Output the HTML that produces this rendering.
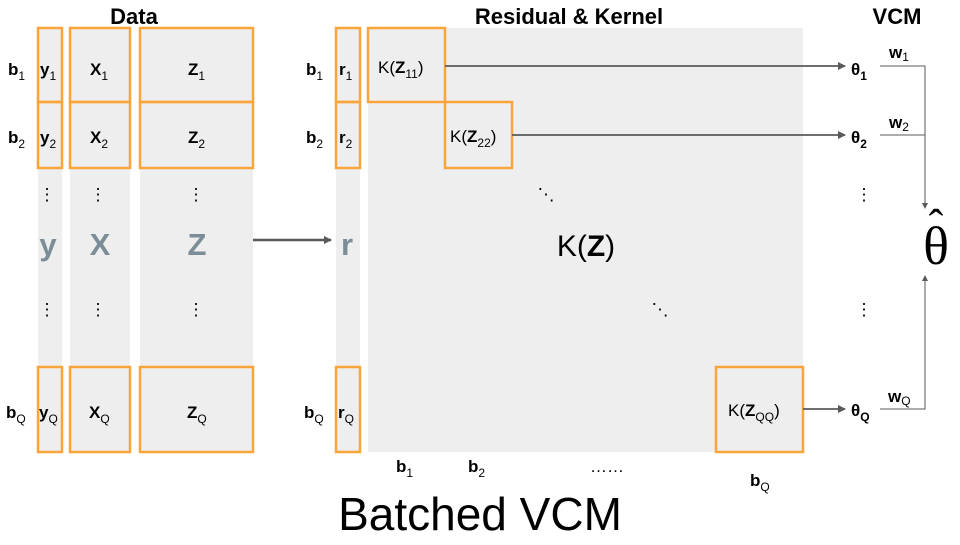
<!DOCTYPE html>
<html><head><style>
body{margin:0;width:960px;height:540px;background:#fff;overflow:hidden;font-family:"Liberation Sans",sans-serif}
</style></head><body>
<svg width="960" height="540" viewBox="0 0 960 540" xmlns="http://www.w3.org/2000/svg" font-family="Liberation Sans, sans-serif">
<defs><marker id="a" markerWidth="8" markerHeight="8" refX="7" refY="4" orient="auto" markerUnits="userSpaceOnUse"><path d="M0,0 L8,4 L0,8z" fill="#595959"/></marker>
<marker id="s" markerWidth="6" markerHeight="6" refX="5" refY="3" orient="auto" markerUnits="userSpaceOnUse"><path d="M0,0 L6,3 L0,6z" fill="#595959"/></marker></defs>
<g fill="#eeeeee">
<rect x="38" y="28" width="24" height="424"/><rect x="70" y="28" width="60" height="424"/><rect x="140" y="28" width="113" height="424"/>
<rect x="336" y="28" width="24" height="424"/><rect x="368" y="28" width="435" height="424"/>
</g>
<g fill="none" stroke="#f9a53c" stroke-width="2.5">
<rect x="38" y="28" width="24" height="74"/><rect x="38" y="102" width="24" height="66"/><rect x="38" y="367" width="24" height="85"/>
<rect x="70" y="28" width="60" height="74"/><rect x="70" y="102" width="60" height="66"/><rect x="70" y="367" width="60" height="85"/>
<rect x="140" y="28" width="113" height="74"/><rect x="140" y="102" width="113" height="66"/><rect x="140" y="367" width="113" height="85"/>
<rect x="336" y="28" width="24" height="74"/><rect x="336" y="102" width="24" height="66"/><rect x="336" y="367" width="24" height="85"/>
<rect x="368" y="28" width="77" height="74"/><rect x="445" y="102" width="67" height="66"/><rect x="716" y="367" width="87" height="85"/>
</g>
<g font-weight="bold" font-size="22" text-anchor="middle" fill="#000">
<text x="134" y="24">Data</text><text x="569" y="24">Residual &amp; Kernel</text><text x="897" y="24">VCM</text>
</g>
<g font-size="17" fill="#000">
<text x="8" y="75" font-weight="bold">b<tspan font-size="12" font-weight="normal" dy="5">1</tspan></text>
<text x="8" y="143" font-weight="bold">b<tspan font-size="12" font-weight="normal" dy="5">2</tspan></text>
<text x="6" y="418" font-weight="bold">b<tspan font-size="12" font-weight="normal" dy="5">Q</tspan></text>
<text x="306" y="75" font-weight="bold">b<tspan font-size="12" font-weight="normal" dy="5">1</tspan></text>
<text x="306" y="143" font-weight="bold">b<tspan font-size="12" font-weight="normal" dy="5">2</tspan></text>
<text x="304" y="418" font-weight="bold">b<tspan font-size="12" font-weight="normal" dy="5">Q</tspan></text>
<text x="40" y="75" font-weight="bold">y<tspan font-size="12" font-weight="normal" dy="5">1</tspan></text>
<text x="40" y="143" font-weight="bold">y<tspan font-size="12" font-weight="normal" dy="5">2</tspan></text>
<text x="39" y="418" font-weight="bold">y<tspan font-size="12" font-weight="normal" dy="5">Q</tspan></text>
<text x="90" y="75" font-weight="bold">X<tspan font-size="12" font-weight="normal" dy="5">1</tspan></text>
<text x="90" y="143" font-weight="bold">X<tspan font-size="12" font-weight="normal" dy="5">2</tspan></text>
<text x="89" y="418" font-weight="bold">X<tspan font-size="12" font-weight="normal" dy="5">Q</tspan></text>
<text x="188" y="75" font-weight="bold">Z<tspan font-size="12" font-weight="normal" dy="5">1</tspan></text>
<text x="188" y="143" font-weight="bold">Z<tspan font-size="12" font-weight="normal" dy="5">2</tspan></text>
<text x="187" y="418" font-weight="bold">Z<tspan font-size="12" font-weight="normal" dy="5">Q</tspan></text>
<text x="339" y="75" font-weight="bold">r<tspan font-size="12" font-weight="normal" dy="5">1</tspan></text>
<text x="339" y="143" font-weight="bold">r<tspan font-size="12" font-weight="normal" dy="5">2</tspan></text>
<text x="338" y="418" font-weight="bold">r<tspan font-size="12" font-weight="normal" dy="5">Q</tspan></text>
<text x="378" y="73">K(<tspan font-weight="bold">Z</tspan><tspan font-size="12" dy="5">11</tspan><tspan dy="-5">)</tspan></text>
<text x="450" y="142">K(<tspan font-weight="bold">Z</tspan><tspan font-size="12" dy="5">22</tspan><tspan dy="-5">)</tspan></text>
<text x="728" y="416">K(<tspan font-weight="bold">Z</tspan><tspan font-size="12" dy="5">QQ</tspan><tspan dy="-5">)</tspan></text>
<text x="396" y="472" font-weight="bold">b<tspan font-size="12" font-weight="normal" dy="5">1</tspan></text>
<text x="468" y="472" font-weight="bold">b<tspan font-size="12" font-weight="normal" dy="5">2</tspan></text>
<text x="750" y="486" font-weight="bold">b<tspan font-size="12" font-weight="normal" dy="5">Q</tspan></text>
<text x="590" y="472">……</text>
<text x="851" y="75" font-weight="bold">θ<tspan font-size="12" dy="5">1</tspan></text>
<text x="851" y="143" font-weight="bold">θ<tspan font-size="12" dy="5">2</tspan></text>
<text x="851" y="416" font-weight="bold">θ<tspan font-size="12" dy="5">Q</tspan></text>
<text x="889" y="58" font-weight="bold">w<tspan font-size="12" font-weight="normal" dy="3">1</tspan></text>
<text x="889" y="128" font-weight="bold">w<tspan font-size="12" font-weight="normal" dy="3">2</tspan></text>
<text x="888" y="402" font-weight="bold">w<tspan font-size="12" font-weight="normal" dy="3">Q</tspan></text>
</g>
<g font-size="17" fill="#000" text-anchor="middle">
<text x="47" y="200">⋮</text><text x="98" y="200">⋮</text><text x="196" y="200">⋮</text><text x="864" y="200">⋮</text>
<text x="47" y="315">⋮</text><text x="98" y="315">⋮</text><text x="196" y="315">⋮</text><text x="864" y="315">⋮</text>
<text x="546" y="200">⋱</text><text x="660" y="315">⋱</text>
</g>
<g font-size="31" font-weight="bold" fill="#7b8d97" text-anchor="middle">
<text x="48" y="255">y</text><text x="100" y="255">X</text><text x="197" y="255">Z</text><text x="347" y="255">r</text>
</g>
<text x="586" y="256" font-size="30" text-anchor="middle">K(<tspan font-weight="bold">Z</tspan>)</text>
<text x="936" y="264" font-size="54" font-family="Liberation Serif, serif" text-anchor="middle">θ</text>
<text x="936" y="240" font-size="44" font-family="Liberation Serif, serif" text-anchor="middle">ˆ</text>
<g stroke="#595959" fill="none">
<line x1="253" y1="240" x2="331" y2="240" stroke-width="2.5" marker-end="url(#a)"/>
<line x1="445" y1="66" x2="845" y2="66" stroke-width="1.8" marker-end="url(#a)"/>
<line x1="512" y1="135" x2="845" y2="135" stroke-width="1.8" marker-end="url(#a)"/>
<line x1="803" y1="409" x2="845" y2="409" stroke-width="1.8" marker-end="url(#a)"/>
<polyline points="880,66 925,66 925,208" stroke-width="1" marker-end="url(#s)"/>
<line x1="880" y1="135" x2="925" y2="135" stroke-width="1"/>
<polyline points="880,409 925,409 925,276" stroke-width="1" marker-end="url(#s)"/>
</g>
<text x="480" y="530" font-size="46" text-anchor="middle">Batched VCM</text>
</svg>
</body></html>
